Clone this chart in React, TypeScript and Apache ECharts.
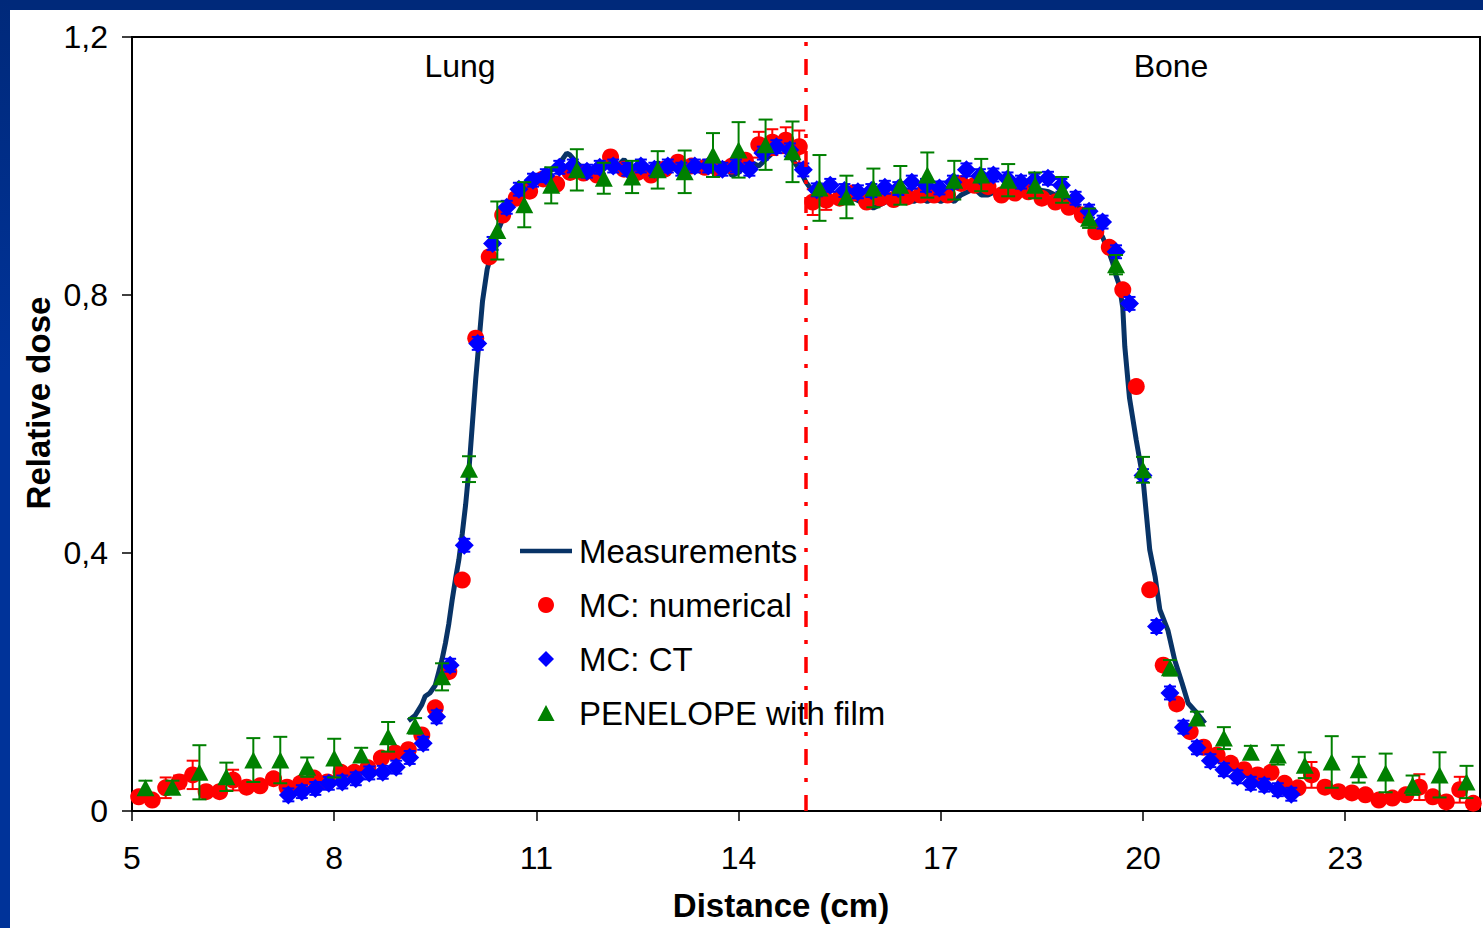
import React, { useEffect, useRef } from "react";
import * as echarts from "echarts";

const X_MIN = 5;
const X_MAX = 25;
const X_INTERVAL = 3;
const Y_MIN = 0;
const Y_MAX = 1.2;
const Y_INTERVAL = 0.4;
const BOUNDARY_X = 15;

const SERIES_NAMES = ["Measurements", "MC: numerical", "MC: CT", "PENELOPE with film"];
const REGION_LABELS = ["Lung", "Bone"];
const X_TITLE = "Distance (cm)";
const Y_TITLE = "Relative dose";

// Measurements: [x, dose]
const measurements: [number, number][] = [
  [9.1, 0.14], [9.2, 0.148], [9.3, 0.165], [9.35, 0.178], [9.42, 0.183], [9.5, 0.195],
  [9.55, 0.215], [9.6, 0.235], [9.65, 0.26], [9.7, 0.29], [9.75, 0.327], [9.8, 0.36],
  [9.85, 0.39], [9.9, 0.43], [9.95, 0.475], [10.0, 0.53], [10.05, 0.6], [10.1, 0.67],
  [10.15, 0.73], [10.2, 0.79], [10.27, 0.84], [10.35, 0.87], [10.45, 0.905], [10.55, 0.93],
  [10.65, 0.95], [10.75, 0.962], [10.85, 0.97], [10.95, 0.978], [11.05, 0.985], [11.15, 0.99],
  [11.25, 0.995], [11.35, 1.005], [11.45, 1.02], [11.5, 1.017], [11.6, 1.005], [11.7, 0.995],
  [11.8, 0.99], [11.9, 1.0], [12.0, 1.005], [12.1, 1.022], [12.2, 1.0], [12.3, 1.01],
  [12.4, 0.995], [12.5, 0.99], [12.6, 1.0], [12.7, 0.99], [12.8, 1.005], [12.9, 1.0],
  [13.0, 0.995], [13.1, 1.0], [13.2, 1.005], [13.3, 0.995], [13.4, 1.0], [13.5, 0.99],
  [13.6, 1.0], [13.7, 0.995], [13.8, 1.005], [13.9, 0.985], [14.0, 0.99], [14.1, 1.0],
  [14.2, 1.005], [14.3, 1.0], [14.4, 1.01], [14.5, 1.02], [14.6, 1.025], [14.7, 1.03],
  [14.8, 1.01], [14.9, 0.995], [14.95, 0.985], [15.0, 0.975], [15.05, 0.968], [15.1, 0.96],
  [15.2, 0.955], [15.3, 0.955], [15.4, 0.95], [15.5, 0.955], [15.6, 0.945], [15.7, 0.95],
  [15.8, 0.945], [15.9, 0.94], [16.0, 0.935], [16.1, 0.94], [16.2, 0.945], [16.3, 0.95],
  [16.4, 0.945], [16.5, 0.95], [16.6, 0.945], [16.7, 0.95], [16.8, 0.945], [16.9, 0.95],
  [17.0, 0.945], [17.1, 0.95], [17.2, 0.945], [17.3, 0.955], [17.4, 0.96], [17.5, 0.965],
  [17.6, 0.955], [17.7, 0.955], [17.8, 0.96], [17.9, 0.96], [18.0, 0.962], [18.1, 0.96],
  [18.2, 0.962], [18.3, 0.965], [18.4, 0.965], [18.5, 0.962], [18.6, 0.96], [18.7, 0.955],
  [18.8, 0.95], [18.9, 0.945], [19.0, 0.94], [19.1, 0.93], [19.2, 0.92], [19.3, 0.905],
  [19.4, 0.89], [19.5, 0.865], [19.55, 0.85], [19.6, 0.83], [19.65, 0.815], [19.7, 0.78],
  [19.73, 0.72], [19.8, 0.64], [19.9, 0.575], [20.0, 0.515], [20.05, 0.46], [20.1, 0.405],
  [20.18, 0.363], [20.25, 0.312], [20.37, 0.28], [20.47, 0.234], [20.58, 0.198], [20.67, 0.167],
  [20.8, 0.152], [20.92, 0.136],
];

// MC: numerical: [x, dose, error]
const mcNumerical: [number, number, number][] = [
  [5.1, 0.022, 0.008], [5.3, 0.017, 0.006], [5.5, 0.036, 0.016], [5.7, 0.045, 0.01], [5.9, 0.056, 0.022],
  [6.1, 0.03, 0.006], [6.3, 0.03, 0.006], [6.5, 0.048, 0.016], [6.7, 0.037, 0.006], [6.9, 0.039, 0.006],
  [7.1, 0.05, 0.006], [7.3, 0.037, 0.006], [7.5, 0.043, 0.006], [7.7, 0.051, 0.006], [7.9, 0.045, 0.006],
  [8.1, 0.06, 0.006], [8.3, 0.06, 0.006], [8.5, 0.067, 0.006], [8.7, 0.082, 0.006], [8.9, 0.09, 0.006],
  [9.1, 0.095, 0.006], [9.3, 0.118, 0.006], [9.5, 0.16, 0.006], [9.7, 0.216, 0.006], [9.9, 0.358, 0.006],
  [10.1, 0.733, 0.006], [10.3, 0.859, 0.006], [10.5, 0.924, 0.006], [10.7, 0.95, 0.006], [10.9, 0.961, 0.006],
  [11.1, 0.98, 0.006], [11.3, 0.972, 0.006], [11.5, 0.99, 0.006], [11.7, 0.989, 0.006], [11.9, 0.986, 0.006],
  [12.1, 1.014, 0.006], [12.3, 0.995, 0.006], [12.5, 0.99, 0.006], [12.7, 0.986, 0.006], [12.9, 0.995, 0.006],
  [13.1, 1.006, 0.006], [13.3, 1.0, 0.006], [13.5, 0.998, 0.006], [13.7, 0.995, 0.006], [13.9, 1.0, 0.006],
  [14.1, 1.009, 0.006], [14.3, 1.033, 0.02], [14.5, 1.037, 0.02], [14.7, 1.04, 0.02], [14.9, 1.03, 0.025],
  [15.1, 0.944, 0.02], [15.3, 0.947, 0.015], [15.5, 0.95, 0.006], [15.7, 0.958, 0.006], [15.9, 0.944, 0.006],
  [16.1, 0.95, 0.006], [16.3, 0.948, 0.006], [16.5, 0.952, 0.006], [16.7, 0.955, 0.006], [16.9, 0.955, 0.006],
  [17.1, 0.955, 0.006], [17.3, 0.973, 0.006], [17.5, 0.97, 0.006], [17.7, 0.968, 0.006], [17.9, 0.955, 0.006],
  [18.1, 0.958, 0.006], [18.3, 0.96, 0.006], [18.5, 0.95, 0.006], [18.7, 0.944, 0.006], [18.9, 0.936, 0.006],
  [19.1, 0.924, 0.006], [19.3, 0.898, 0.006], [19.5, 0.874, 0.006], [19.7, 0.808, 0.006], [19.9, 0.658, 0.006],
  [20.1, 0.343, 0.006], [20.3, 0.226, 0.006], [20.5, 0.166, 0.006], [20.7, 0.123, 0.006], [20.9, 0.099, 0.006],
  [21.1, 0.087, 0.006], [21.3, 0.074, 0.006], [21.5, 0.064, 0.006], [21.7, 0.056, 0.006], [21.9, 0.06, 0.006],
  [22.1, 0.043, 0.006], [22.3, 0.036, 0.006], [22.5, 0.056, 0.02], [22.7, 0.037, 0.006], [22.9, 0.03, 0.006],
  [23.1, 0.028, 0.006], [23.3, 0.025, 0.006], [23.5, 0.017, 0.006], [23.7, 0.02, 0.006], [23.9, 0.025, 0.006],
  [24.1, 0.037, 0.02], [24.3, 0.022, 0.006], [24.5, 0.014, 0.006], [24.7, 0.033, 0.02], [24.9, 0.012, 0.006],
];

// MC: CT: [x, dose]
const mcCT: [number, number][] = [
  [7.32, 0.025], [7.52, 0.03], [7.72, 0.035], [7.92, 0.043], [8.12, 0.045], [8.32, 0.05],
  [8.52, 0.059], [8.72, 0.06], [8.92, 0.068], [9.12, 0.083], [9.32, 0.105], [9.52, 0.146],
  [9.72, 0.226], [9.93, 0.412], [10.13, 0.725], [10.35, 0.88], [10.56, 0.936], [10.74, 0.964],
  [10.95, 0.978], [11.14, 0.985], [11.34, 0.998], [11.54, 1.0], [11.75, 0.992], [11.94, 0.998],
  [12.14, 1.0], [12.35, 0.995], [12.55, 1.0], [12.75, 0.995], [12.95, 1.0], [13.15, 0.995],
  [13.35, 1.0], [13.55, 1.0], [13.76, 0.995], [13.96, 1.0], [14.16, 0.995], [14.36, 1.02],
  [14.56, 1.03], [14.76, 1.025], [14.96, 0.994], [15.16, 0.963], [15.36, 0.97], [15.57, 0.962],
  [15.77, 0.96], [15.97, 0.962], [16.17, 0.967], [16.37, 0.965], [16.57, 0.975], [16.78, 0.97],
  [16.98, 0.966], [17.18, 0.975], [17.38, 0.994], [17.58, 0.985], [17.78, 0.986], [17.99, 0.98],
  [18.19, 0.975], [18.39, 0.978], [18.59, 0.981], [18.79, 0.97], [19.0, 0.95], [19.2, 0.93],
  [19.4, 0.913], [19.6, 0.867], [19.8, 0.787], [20.0, 0.52], [20.2, 0.286], [20.4, 0.183],
  [20.6, 0.13], [20.8, 0.098], [21.0, 0.078], [21.2, 0.064], [21.4, 0.053], [21.6, 0.043],
  [21.8, 0.04], [22.0, 0.033], [22.2, 0.026],
];
const MC_CT_ERR = 0.01;

// PENELOPE with film: [x, dose, error]
const penelope: [number, number, number][] = [
  [5.2, 0.036, 0.011], [5.6, 0.037, 0.01], [6.0, 0.06, 0.042], [6.4, 0.053, 0.022], [6.8, 0.079, 0.034],
  [7.2, 0.079, 0.036], [7.6, 0.068, 0.015], [8.0, 0.082, 0.03], [8.4, 0.087, 0.011], [8.8, 0.115, 0.023],
  [9.2, 0.132, 0.012], [9.6, 0.208, 0.021], [10.0, 0.53, 0.02], [10.42, 0.9, 0.045], [10.82, 0.94, 0.035],
  [11.22, 0.97, 0.028], [11.6, 0.994, 0.032], [12.0, 0.981, 0.024], [12.42, 0.983, 0.025], [12.8, 0.994, 0.029],
  [13.2, 0.991, 0.033], [13.62, 1.017, 0.034], [14.0, 1.025, 0.043], [14.4, 1.033, 0.039], [14.8, 1.022, 0.047],
  [15.2, 0.966, 0.051], [15.6, 0.952, 0.033], [16.0, 0.966, 0.03], [16.4, 0.97, 0.03], [16.8, 0.986, 0.035],
  [17.2, 0.978, 0.03], [17.6, 0.986, 0.025], [18.0, 0.978, 0.025], [18.4, 0.97, 0.02], [18.8, 0.963, 0.02],
  [19.2, 0.919, 0.015], [19.6, 0.847, 0.015], [20.0, 0.529, 0.02], [20.4, 0.222, 0.012], [20.8, 0.144, 0.01],
  [21.2, 0.113, 0.017], [21.6, 0.091, 0.01], [22.0, 0.087, 0.015], [22.4, 0.071, 0.02], [22.8, 0.076, 0.04],
  [23.2, 0.064, 0.02], [23.6, 0.059, 0.03], [24.0, 0.04, 0.015], [24.4, 0.056, 0.035], [24.8, 0.045, 0.025],
];

const FONT = '"Liberation Sans", Arial, sans-serif';

const ICON_LINE = "path://M0,0 L52,0 L52,4.5 L0,4.5 Z";
const ICON_DIAMOND = "path://M8,0 L16,8 L8,16 L0,8 Z";
const ICON_TRIANGLE = "path://M8,0 L16,15 L0,15 Z";

function errorBars(name: string, rows: [number, number, number][], color: string, capHalf: number, z: number) {
  return {
    type: "custom",
    name,
    z,
    silent: true,
    clip: true,
    encode: { x: 0, y: [1, 2] },
    data: rows,
    renderItem: (_params: any, api: any) => {
      const x = api.value(0);
      const lo = api.value(1);
      const hi = api.value(2);
      const top = api.coord([x, hi]);
      const bot = api.coord([x, lo]);
      const st = { stroke: color, lineWidth: 2 };
      return {
        type: "group",
        children: [
          { type: "line", shape: { x1: top[0], y1: top[1], x2: bot[0], y2: bot[1] }, style: st },
          { type: "line", shape: { x1: top[0] - capHalf, y1: top[1], x2: top[0] + capHalf, y2: top[1] }, style: st },
          { type: "line", shape: { x1: bot[0] - capHalf, y1: bot[1], x2: bot[0] + capHalf, y2: bot[1] }, style: st },
        ],
      };
    },
  };
}

export default function App() {
  const ref = useRef<HTMLDivElement>(null);

  useEffect(() => {
    if (!ref.current) return;
    const chart = echarts.init(ref.current, undefined, { renderer: "svg" });

    const redErr = mcNumerical.map((d) => [d[0], d[1] - d[2], d[1] + d[2]] as [number, number, number]);
    const blueErr = mcCT.map((d) => [d[0], d[1] - MC_CT_ERR, d[1] + MC_CT_ERR] as [number, number, number]);
    const greenErr = penelope.map((d) => [d[0], d[1] - d[2], d[1] + d[2]] as [number, number, number]);

    chart.setOption({
      animation: false,
      backgroundColor: "#ffffff",
      grid: {
        left: 132,
        right: 3,
        top: 37,
        bottom: 117,
        show: true,
        borderColor: "#000000",
        borderWidth: 2,
        backgroundColor: "transparent",
      },
      xAxis: {
        type: "value",
        min: X_MIN,
        max: X_MAX,
        interval: X_INTERVAL,
        axisLine: { onZero: false, lineStyle: { color: "#000000", width: 2 } },
        axisTick: { show: true, inside: false, length: 10, lineStyle: { color: "#000000", width: 1.5 } },
        splitLine: { show: false },
        axisLabel: {
          margin: 31,
          showMaxLabel: false,
          color: "#000000",
          fontSize: 32,
          fontFamily: FONT,
        },
      },
      yAxis: {
        type: "value",
        min: Y_MIN,
        max: Y_MAX,
        interval: Y_INTERVAL,
        axisLine: { show: true, lineStyle: { color: "#000000", width: 2 } },
        axisTick: { show: true, inside: false, length: 10, lineStyle: { color: "#000000", width: 1.5 } },
        splitLine: { show: false },
        axisLabel: {
          margin: 24,
          color: "#000000",
          fontSize: 32,
          fontFamily: FONT,
          formatter: (v: number) => (v === 0 ? "0" : v.toFixed(1).replace(".", ",")),
        },
      },
      legend: {
        orient: "vertical",
        left: 520,
        top: 532,
        padding: 0,
        itemWidth: 52,
        itemHeight: 16,
        itemGap: 16,
        symbolKeepAspect: true,
        textStyle: { color: "#000000", fontSize: 33, fontFamily: FONT, lineHeight: 38, padding: [0, 0, 0, 2] },
        data: [
          { name: SERIES_NAMES[0], icon: ICON_LINE, itemStyle: { color: "#083366" } },
          { name: SERIES_NAMES[1], icon: "circle" },
          { name: SERIES_NAMES[2], icon: ICON_DIAMOND },
          { name: SERIES_NAMES[3], icon: ICON_TRIANGLE },
        ],
      },
      graphic: [
        {
          type: "text",
          x: 460,
          y: 66,
          style: { text: REGION_LABELS[0], fontSize: 32, fontFamily: FONT, fill: "#000000", align: "center", verticalAlign: "middle" },
        },
        {
          type: "text",
          x: 1171,
          y: 66,
          style: { text: REGION_LABELS[1], fontSize: 32, fontFamily: FONT, fill: "#000000", align: "center", verticalAlign: "middle" },
        },
        {
          type: "text",
          x: 781,
          y: 905,
          style: { text: X_TITLE, fontSize: 33, fontWeight: "bold", fontFamily: FONT, fill: "#000000", align: "center", verticalAlign: "middle" },
        },
        {
          type: "text",
          x: 38,
          y: 403,
          rotation: Math.PI / 2,
          style: { text: Y_TITLE, fontSize: 33, fontWeight: "bold", fontFamily: FONT, fill: "#000000", align: "center", verticalAlign: "middle" },
        },
      ],
      series: [
        {
          name: SERIES_NAMES[0],
          type: "line",
          z: 2,
          data: measurements,
          symbol: "none",
          smooth: false,
          lineStyle: { color: "#083366", width: 5 },
          itemStyle: { color: "#083366" },
          markLine: {
            silent: true,
            symbol: ["none", "none"],
            label: { show: false },
            z: 10,
            lineStyle: { color: "#ff0000", width: 3.5, type: [16, 13, 4, 13] },
            data: [{ xAxis: BOUNDARY_X }],
          },
        },
        errorBars("err-num", redErr, "#ff0000", 6, 3),
        {
          name: SERIES_NAMES[1],
          type: "scatter",
          z: 4,
          data: mcNumerical.map((d) => [d[0], d[1]]),
          symbol: "circle",
          symbolSize: 17,
          itemStyle: { color: "#ff0000", opacity: 1 },
        },
        errorBars("err-ct", blueErr, "#0000ff", 6, 5),
        {
          name: SERIES_NAMES[2],
          type: "scatter",
          z: 6,
          data: mcCT,
          symbol: "diamond",
          symbolSize: 19,
          itemStyle: { color: "#0000ff", opacity: 1 },
        },
        errorBars("err-pen", greenErr, "#008000", 7, 7),
        {
          name: SERIES_NAMES[3],
          type: "scatter",
          z: 8,
          data: penelope.map((d) => [d[0], d[1]]),
          symbol: "triangle",
          symbolSize: [18, 17],
          itemStyle: { color: "#008000", opacity: 1 },
        },
      ],
    });

    return () => chart.dispose();
  }, []);

  return (
    <div style={{ position: "fixed", left: 0, top: 0, width: 1483, height: 928, background: "#ffffff" }}>
      <div ref={ref} style={{ position: "absolute", left: 0, top: 0, width: 1483, height: 928 }} />
      <div style={{ position: "absolute", left: 0, top: 0, width: 1483, height: 10, background: "#00297a" }} />
      <div
        style={{
          position: "absolute",
          left: 0,
          top: 0,
          width: 10,
          height: 928,
          background: "linear-gradient(#00297a, #003399 40%, #003399)",
        }}
      />
    </div>
  );
}
